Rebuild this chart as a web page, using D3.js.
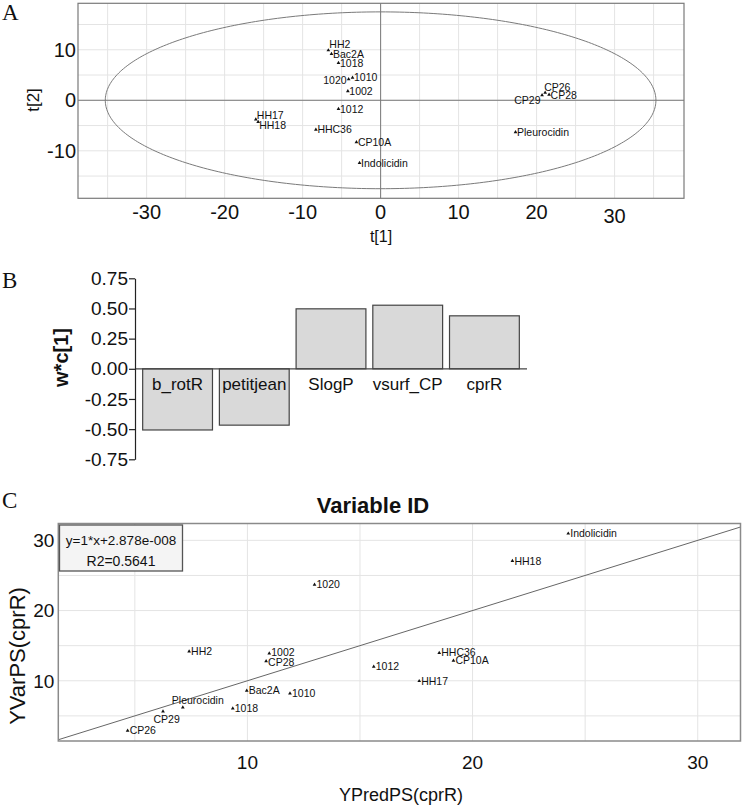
<!DOCTYPE html>
<html>
<head>
<meta charset="utf-8">
<script src="https://cdn.jsdelivr.net/npm/d3@7"></script>
<style>
  html, body { margin: 0; padding: 0; background: #fff; }
  svg { display: block; font-family: "Liberation Sans", Arial, sans-serif; }
</style>
</head>
<body>
<svg id="chart" width="742" height="808"></svg>
<script>
// ---------------- DATA ----------------
// Panel A: score plot t[1] vs t[2]
const scoreNames = ["HH2","Bac2A","1018","1020","1010","1002","1012","HH17","HH18","HHC36","CP10A","Indolicidin","CP26","CP28","CP29","Pleurocidin"];
const scoreT1 = [-6.7,-6.3,-5.4,-4.1,-3.6,-4.2,-5.4,-16.0,-15.7,-8.3,-3.1,-2.7,21.1,21.6,20.7,17.3];
const scoreT2 = [9.9,9.2,7.4,4.2,4.5,1.8,-1.7,-3.8,-4.3,-5.8,-8.3,-12.4,1.5,1.1,1.0,-6.3];
const ellipseRadii = [35.3, 17.5];            // Hotelling T2 ellipse half-axes (t[1], t[2])
const scoreXTicks = [-30,-20,-10,0,10,20,30];
const scoreYTicks = [-10,0,10];

// Panel B: loadings w*c[1]
const loadingVars = ["b_rotR","petitjean","SlogP","vsurf_CP","cprR"];
const loadingVals = [-0.507,-0.467,0.497,0.527,0.439];
const loadingTicks = [-0.75,-0.5,-0.25,0,0.25,0.5,0.75];

// Panel C: observed vs predicted
const predNames = ["CP26","CP29","Pleurocidin","HH2","1018","Bac2A","CP28","1002","1010","1020","1012","HH17","HHC36","CP10A","HH18","Indolicidin"];
const predX = [4.68,6.25,7.13,7.41,9.35,9.97,10.83,10.97,11.89,12.98,15.61,17.63,18.52,19.15,21.77,24.25];
const predY = [2.89,5.65,6.2,14.18,6.07,8.58,12.8,13.9,8.2,23.7,12.0,9.96,13.98,12.85,27.07,30.97];
const fitSlope = 1, fitIntercept = 2.878e-8;
const fitText = ["y=1*x+2.878e-008", "R2=0.5641"];
const predTicks = [10,20,30];

// ---------------- STYLE ----------------
const gridCol = "#e4e4e4", frameCol = "#7a7a7a", txt = "#111";
const fmtNum = d => String(d).replace("\u2212","-");

const svg = d3.select("#chart");
svg.append("rect").attr("width",742).attr("height",808).attr("fill","#fff");

// panel letters
[["A",2,20],["B",2,288],["C",2,508]].forEach(([t,x,y]) =>
  svg.append("text").attr("x",x).attr("y",y).attr("font-family","'Liberation Serif','Times New Roman',serif")
     .attr("font-size",23).attr("fill",txt).text(t));

// ================= PANEL A =================
(function(){
  const L=78, R=684, T=3.3, B=198.3;
  const x = d3.scaleLinear().domain([-38.8,38.9]).range([L,R]);
  const y = d3.scaleLinear().domain([-19.4,19.2]).range([B,T]);
  const g = svg.append("g");
  // grid every 5
  g.selectAll(".vg").data(d3.range(-35,36,5)).join("line")
    .attr("x1",d=>x(d)).attr("x2",d=>x(d)).attr("y1",T).attr("y2",B)
    .attr("stroke",gridCol).attr("stroke-width",1);
  g.selectAll(".hg").data(d3.range(-15,16,5)).join("line")
    .attr("y1",d=>y(d)).attr("y2",d=>y(d)).attr("x1",L).attr("x2",R)
    .attr("stroke",gridCol).attr("stroke-width",1);
  // zero lines
  g.append("line").attr("x1",x(0)).attr("x2",x(0)).attr("y1",T).attr("y2",B).attr("stroke",frameCol);
  g.append("line").attr("y1",y(0)).attr("y2",y(0)).attr("x1",L).attr("x2",R).attr("stroke",frameCol);
  // ellipse
  const angles = d3.range(0, 2*Math.PI+0.001, Math.PI/180);
  g.append("path")
    .attr("d", d3.line().x(a=>x(ellipseRadii[0]*Math.cos(a))).y(a=>y(ellipseRadii[1]*Math.sin(a)))(angles))
    .attr("fill","none").attr("stroke",frameCol).attr("stroke-width",1);
  // frame
  g.append("rect").attr("x",L).attr("y",T).attr("width",R-L).attr("height",B-T)
    .attr("fill","none").attr("stroke",frameCol).attr("stroke-width",1.2);
  // tick labels
  g.selectAll(".xt").data(scoreXTicks).join("text")
    .attr("x",d=>x(d)).attr("y",d=> d===30 ? 223 : 219).attr("text-anchor","middle")
    .attr("font-size",20).attr("fill",txt).text(fmtNum);
  g.selectAll(".yt").data(scoreYTicks).join("text")
    .attr("x",L-2).attr("y",d=>y(d)).attr("dy","0.36em").attr("text-anchor","end")
    .attr("font-size",20).attr("fill",txt).text(fmtNum);
  // axis titles
  g.append("text").attr("x",381).attr("y",242).attr("text-anchor","middle")
    .attr("font-size",16).attr("fill",txt).text("t[1]");
  g.append("text").attr("transform","translate(39,100) rotate(-90)").attr("text-anchor","middle")
    .attr("font-size",17).attr("fill",txt).text("t[2]");
  // points
  const labelPos = {"1020":{dx:-2,dy:1.5,anchor:"end"}, "HH2":{dx:1,dy:-5.5}, "Bac2A":{dx:1.5,dy:1},
                    "HH17":{dx:1,dy:-4.5}, "HH18":{dx:1,dy:3}, "CP26":{dx:-1,dy:-5.5},
                    "CP28":{dx:1.5,dy:0.5}, "CP29":{dx:-1.5,dy:5.5,anchor:"end"}};
  const pts = scoreNames.map((n,i)=>({n, t1:scoreT1[i], t2:scoreT2[i]}));
  g.selectAll(".pa").data(pts).join("path")
    .attr("transform",d=>`translate(${x(d.t1)},${y(d.t2)})`)
    .attr("d", d3.symbol(d3.symbolTriangle, 6)()).attr("fill","#111");
  g.selectAll(".la").data(pts).join("text")
    .attr("x",d=>x(d.t1)+((labelPos[d.n]||{}).dx ?? 1.5))
    .attr("y",d=>y(d.t2)+((labelPos[d.n]||{}).dy ?? 0))
    .attr("dy","0.35em").attr("text-anchor",d=>(labelPos[d.n]||{}).anchor||"start")
    .attr("font-size",10.5).attr("fill",txt).text(d=>d.n);
})();

// ================= PANEL B =================
(function(){
  const y = d3.scaleLinear().domain([-0.75,0.75]).range([459.3,278.3]);
  const x = d3.scaleBand().domain(loadingVars).range([135,527]).paddingInner(0.09).paddingOuter(0.1);
  const g = svg.append("g");
  g.selectAll(".bar").data(loadingVars.map((v,i)=>({v,val:loadingVals[i]}))).join("rect")
    .attr("x",d=>x(d.v)).attr("width",x.bandwidth())
    .attr("y",d=>y(Math.max(0,d.val))).attr("height",d=>Math.abs(y(d.val)-y(0)))
    .attr("fill","#d9d9d9").attr("stroke","#444").attr("stroke-width",1.2);
  // zero line
  g.append("line").attr("x1",135).attr("x2",527).attr("y1",y(0)).attr("y2",y(0))
    .attr("stroke","#444").attr("stroke-width",1.2);
  // y axis
  const ax = g.append("g").attr("transform","translate(135,0)")
    .call(d3.axisLeft(y).tickValues(loadingTicks).tickSize(6).tickSizeOuter(0).tickPadding(1)
      .tickFormat(d=>d3.format(".2f")(d).replace("\u2212","-")));
  ax.select(".domain").attr("stroke","#222").attr("stroke-width",1.2);
  ax.selectAll(".tick line").attr("stroke","#222").attr("stroke-width",1.2);
  ax.selectAll(".tick text").attr("font-size",19).attr("fill",txt)
    .attr("font-family","'Liberation Sans', Arial, sans-serif");
  // category labels
  g.selectAll(".cl").data(loadingVars).join("text")
    .attr("x",d=>x(d)+x.bandwidth()/2).attr("y",384).attr("dy","0.35em")
    .attr("text-anchor","middle").attr("font-size",17).attr("fill",txt).text(d=>d);
  // y title
  g.append("text").attr("transform","translate(68,357.5) rotate(-90)").attr("text-anchor","middle")
    .attr("font-size",20).attr("font-weight","bold").attr("fill",txt).text("w*c[1]");
})();

// ================= PANEL C =================
(function(){
  const L=58.3, R=740.5, T=523.5, B=741;
  const x = d3.scaleLinear().domain([1.6,31.9]).range([L,R]);
  const y = d3.scaleLinear().domain([1.42,32.4]).range([B,T]);
  const g = svg.append("g");
  svg.append("defs").append("clipPath").attr("id","clipC")
    .append("rect").attr("x",L).attr("y",T).attr("width",R-L).attr("height",B-T);
  // title
  g.append("text").attr("x",373).attr("y",513).attr("text-anchor","middle")
    .attr("font-size",22).attr("font-weight","bold").attr("fill",txt).text("Variable ID");
  // grid
  g.selectAll(".vg").data(d3.range(5,31,5)).join("line")
    .attr("x1",d=>x(d)).attr("x2",d=>x(d)).attr("y1",T).attr("y2",B).attr("stroke",gridCol);
  g.selectAll(".hg").data(d3.range(5,31,5)).join("line")
    .attr("y1",d=>y(d)).attr("y2",d=>y(d)).attr("x1",L).attr("x2",R).attr("stroke",gridCol);
  // fit line
  const xd = x.domain();
  g.append("line").attr("clip-path","url(#clipC)")
    .attr("x1",x(xd[0])).attr("y1",y(fitSlope*xd[0]+fitIntercept))
    .attr("x2",x(xd[1])).attr("y2",y(fitSlope*xd[1]+fitIntercept))
    .attr("stroke","#666").attr("stroke-width",1);
  // frame
  g.append("rect").attr("x",L).attr("y",T).attr("width",R-L).attr("height",B-T)
    .attr("fill","none").attr("stroke","#8a8a8a").attr("stroke-width",1.5);
  // tick labels
  g.selectAll(".xt").data(predTicks).join("text")
    .attr("x",d=>x(d)).attr("y",769).attr("text-anchor","middle")
    .attr("font-size",19).attr("fill",txt).text(d=>d);
  g.selectAll(".yt").data(predTicks).join("text")
    .attr("x",L-4).attr("y",d=>y(d)).attr("dy","0.36em").attr("text-anchor","end")
    .attr("font-size",19).attr("fill",txt).text(d=>d);
  // axis titles
  g.append("text").attr("x",401).attr("y",801).attr("text-anchor","middle")
    .attr("font-size",18).attr("fill",txt).text("YPredPS(cprR)");
  g.append("text").attr("transform","translate(25,656) rotate(-90)").attr("text-anchor","middle")
    .attr("font-size",22).attr("fill",txt).text("YVarPS(cprR)");
  // equation box
  g.append("rect").attr("x",59.5).attr("y",525).attr("width",123).attr("height",46)
    .attr("fill","#f4f4f4").attr("stroke","#555").attr("stroke-width",1.3);
  g.append("text").attr("x",121).attr("y",540).attr("dy","0.35em").attr("text-anchor","middle")
    .attr("font-size",13.5).attr("fill",txt).text(fitText[0]);
  g.append("text").attr("x",121).attr("y",561.5).attr("dy","0.35em").attr("text-anchor","middle")
    .attr("font-size",14).attr("fill",txt).text(fitText[1]);
  // points
  const labelPos = {"Pleurocidin":{dx:-11,dy:-7}, "CP29":{dx:-9.5,dy:8}, "1002":{dx:2,dy:-1}, "CP28":{dx:2,dy:1}};
  const pts = predNames.map((n,i)=>({n, px:predX[i], py:predY[i]}));
  g.selectAll(".pc").data(pts).join("path")
    .attr("transform",d=>`translate(${x(d.px)},${y(d.py)})`)
    .attr("d", d3.symbol(d3.symbolTriangle, 6)()).attr("fill","#111");
  g.selectAll(".lc").data(pts).join("text")
    .attr("x",d=>x(d.px)+((labelPos[d.n]||{}).dx ?? 2))
    .attr("y",d=>y(d.py)+((labelPos[d.n]||{}).dy ?? 0))
    .attr("dy","0.35em").attr("font-size",10.5).attr("fill",txt).text(d=>d.n);
})();
</script>
</body>
</html>
